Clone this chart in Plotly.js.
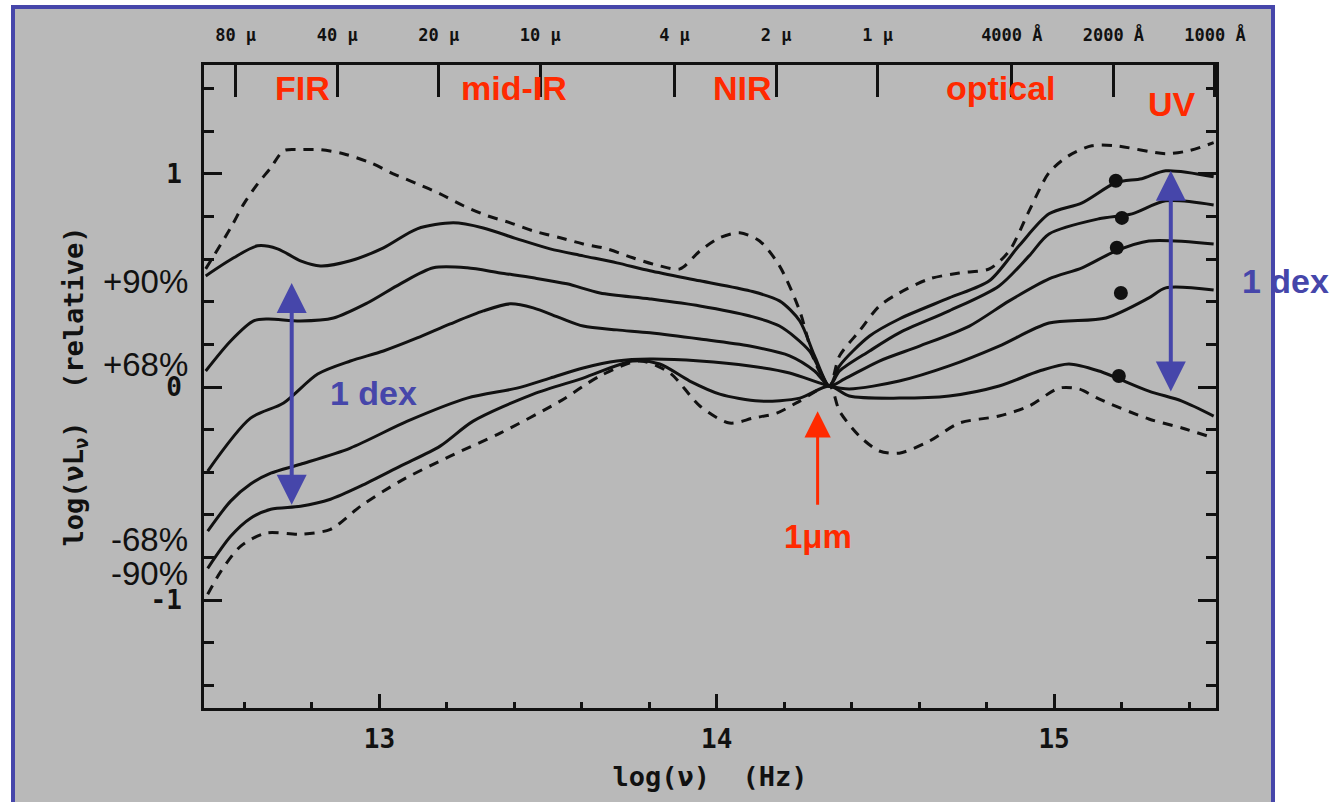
<!DOCTYPE html>
<html><head><meta charset="utf-8">
<script src="https://cdn.plot.ly/plotly-3.0.1.min.js"></script>
<style>
html,body{margin:0;padding:0;background:#fff;overflow:hidden;}
#frame{position:absolute;left:11px;top:5px;width:1256px;height:820px;background:#b9b9b9;border:4px solid #4646aa;border-bottom:none;}
#chart{position:absolute;left:0;top:0;width:1337px;height:802px;}
</style></head><body>
<div id="frame"></div>
<div id="chart"></div>
<script>
// ---- data: log(nu) [Hz] and log(nu L_nu) relative, normalised at ~1 micron ----
const duX = [12.485,12.559,12.598,12.639,12.678,12.716,12.766,12.825,12.893,12.973,13.041,13.112,13.180,13.249,13.320,13.388,13.456,13.536,13.604,13.675,13.751,13.831,13.891,13.950,14.009,14.068,14.127,14.186,14.246,14.290,14.334,14.364,14.423,14.482,14.541,14.630,14.719,14.808,14.867,14.926,14.985,15.044,15.112,15.183,15.331,15.399,15.473];
const duY = [0.554,0.746,0.859,0.953,1.028,1.108,1.113,1.113,1.094,1.052,1.000,0.953,0.906,0.850,0.803,0.770,0.732,0.700,0.671,0.648,0.606,0.568,0.554,0.638,0.700,0.723,0.685,0.568,0.357,0.122,0.005,0.146,0.263,0.380,0.441,0.507,0.535,0.554,0.638,0.826,1.005,1.085,1.131,1.131,1.094,1.108,1.146];

const s1X = [12.485,12.568,12.639,12.698,12.766,12.825,12.914,13.012,13.112,13.219,13.308,13.408,13.506,13.604,13.704,13.802,13.950,14.098,14.186,14.246,14.290,14.334,14.364,14.453,14.541,14.689,14.808,14.896,14.985,15.083,15.183,15.260,15.331,15.473];
const s1Y = [0.521,0.606,0.662,0.648,0.592,0.568,0.592,0.653,0.742,0.770,0.746,0.695,0.648,0.615,0.582,0.545,0.498,0.451,0.404,0.310,0.146,0.005,0.099,0.239,0.319,0.418,0.498,0.662,0.812,0.864,0.958,0.977,1.014,0.986];

const s2X = [12.485,12.559,12.627,12.669,12.766,12.864,12.964,13.062,13.160,13.260,13.358,13.456,13.556,13.654,13.802,13.950,14.098,14.186,14.275,14.334,14.364,14.453,14.541,14.689,14.837,14.926,14.985,15.133,15.231,15.331,15.473];
const s2Y = [0.075,0.216,0.310,0.319,0.310,0.324,0.394,0.484,0.559,0.559,0.535,0.512,0.484,0.441,0.413,0.380,0.333,0.286,0.169,0.005,0.075,0.169,0.254,0.357,0.474,0.615,0.718,0.789,0.812,0.873,0.854];

const s3X = [12.491,12.618,12.716,12.817,12.914,13.012,13.112,13.210,13.308,13.388,13.456,13.536,13.604,13.704,13.802,13.950,14.098,14.216,14.290,14.334,14.379,14.482,14.601,14.749,14.867,14.985,15.083,15.183,15.281,15.473];
const s3Y = [-0.394,-0.146,-0.075,0.061,0.122,0.169,0.230,0.296,0.357,0.390,0.371,0.324,0.286,0.268,0.254,0.225,0.192,0.146,0.075,0.005,0.038,0.122,0.192,0.286,0.404,0.507,0.559,0.638,0.685,0.671];

const s4X = [12.491,12.559,12.618,12.678,12.766,12.914,13.083,13.260,13.408,13.506,13.604,13.704,13.802,13.950,14.098,14.216,14.334,14.393,14.541,14.689,14.837,14.985,15.154,15.281,15.331,15.473];
const s4Y = [-0.676,-0.535,-0.455,-0.404,-0.362,-0.286,-0.160,-0.052,-0.005,0.042,0.089,0.122,0.131,0.122,0.099,0.066,0.005,-0.009,0.028,0.099,0.192,0.300,0.324,0.418,0.465,0.455];

const s5X = [12.491,12.559,12.618,12.678,12.766,12.855,12.944,13.062,13.180,13.278,13.456,13.604,13.751,13.831,13.920,14.009,14.127,14.246,14.334,14.393,14.541,14.689,14.837,14.956,15.044,15.133,15.281,15.379,15.473];
const s5Y = [-0.850,-0.700,-0.615,-0.573,-0.559,-0.526,-0.465,-0.371,-0.277,-0.160,-0.033,0.042,0.122,0.108,0.028,-0.033,-0.066,-0.052,0.005,-0.042,-0.052,-0.042,0.005,0.075,0.108,0.075,-0.019,-0.066,-0.136];

const dlX = [12.491,12.530,12.589,12.663,12.766,12.855,12.944,13.062,13.210,13.358,13.536,13.654,13.772,13.861,13.950,14.038,14.107,14.178,14.246,14.334,14.364,14.423,14.482,14.541,14.630,14.719,14.837,14.926,15.015,15.074,15.133,15.281,15.379,15.473];
const dlY = [-0.972,-0.864,-0.746,-0.685,-0.690,-0.667,-0.559,-0.441,-0.324,-0.216,-0.066,0.052,0.122,0.066,-0.089,-0.169,-0.146,-0.122,-0.066,0.005,-0.113,-0.230,-0.300,-0.310,-0.254,-0.169,-0.136,-0.089,-0.005,-0.009,-0.056,-0.150,-0.192,-0.239];

// small dark blobs drawn on the UV end of the solid curves
const blobX = [15.183,15.201,15.186,15.198,15.192];
const blobY = [0.967,0.793,0.653,0.441,0.052];

// top axis: wavelengths (micron) and their labels
const waveMicron = [80,40,20,10,4,2,1,0.4,0.2,0.1];
const waveLabels = ['80 μ','40 μ','20 μ','10 μ','4 μ','2 μ','1 μ','4000 Å','2000 Å','1000 Å'];
// bottom / left ticks
const xTickVals = [13,14,15];
const xTickText = ['13','14','15'];
const yTickVals = [-1,0,1];
const yTickText = ['-1','0','1'];
// band names and their centres (log nu)
const bandNames = ['FIR','mid-IR','NIR','optical','UV'];
const bandCentres = [12.772,13.399,14.077,14.843,15.349];
// percentile levels
const pctLabels = ['+90%','+68%','-68%','-90%'];
const pctLevels = [0.493,0.108,-0.714,-0.873];

const wavePos = waveMicron.map(l => Math.log10(2.998e14 / l));

const INK = '#111111', BLUE = '#4646aa', RED = '#ff2a00';
function curve(x, y, dash) {
  return {type:'scatter', mode:'lines', x:x, y:y, hoverinfo:'skip', showlegend:false,
    line:{color:INK, width:3, shape:'spline', smoothing:0.8, dash:dash}};
}
const traces = [
  curve(duX, duY, '10px,8px'),
  curve(s1X, s1Y, 'solid'),
  curve(s2X, s2Y, 'solid'),
  curve(s3X, s3Y, 'solid'),
  curve(s4X, s4Y, 'solid'),
  curve(s5X, s5Y, 'solid'),
  curve(dlX, dlY, '10px,8px'),
  {type:'scatter', mode:'markers', x:blobX, y:blobY, hoverinfo:'skip', showlegend:false,
    marker:{symbol:'circle', size:14, color:INK, line:{width:0}}},
  {type:'scatter', mode:'none', x:wavePos, y:wavePos.map(() => null), xaxis:'x2', hoverinfo:'skip', showlegend:false}
];

const mono = {family:'DejaVu Sans Mono', color:INK, weight:'bold'};
const ann = [];
bandNames.forEach((t, i) => ann.push({x:bandCentres[i], y: t === 'UV' ? 1.329 : 1.404, xref:'x', yref:'y', text:t, showarrow:false,
  font:{family:'Liberation Sans', size:34, color:RED, weight:'bold'}}));
pctLabels.forEach((t, i) => ann.push({x:0, xref:'paper', xanchor:'right', xshift:-14, y:pctLevels[i], yref:'y', text:t, showarrow:false,
  font:{family:'Liberation Sans', size:33, color:INK}}));
// 1 dex arrows
function dbl(x, y0, y1) {
  return {x:x, y:y1, ax:x, ay:y0, xref:'x', yref:'y', axref:'x', ayref:'y', text:'', showarrow:true,
    arrowhead:2, startarrowhead:2, arrowside:'end+start', arrowsize:1.5, startarrowsize:1.5,
    arrowwidth:4, arrowcolor:BLUE, standoff:0, startstandoff:0};
}
ann.push(dbl(12.740, -0.559, 0.488));
ann.push(dbl(15.346, -0.028, 1.014));
ann.push({x:12.982, y:-0.028, xref:'x', yref:'y', text:'1 dex', showarrow:false, font:{family:'Liberation Sans', size:34, color:BLUE, weight:'bold'}});
ann.push({x:1, xref:'paper', xanchor:'left', xshift:24, y:0.498, yref:'y', text:'1 dex', showarrow:false, font:{family:'Liberation Sans', size:34, color:BLUE, weight:'bold'}});
// 1 micron pointer
ann.push({x:14.299, y:-0.113, ax:14.299, ay:-0.559, xref:'x', yref:'y', axref:'x', ayref:'y', text:'', showarrow:true,
  arrowhead:2, arrowsize:1.75, arrowwidth:3, arrowcolor:RED, standoff:0});
ann.push({x:14.299, y:-0.700, xref:'x', yref:'y', text:'1μm', showarrow:false, font:{family:'Liberation Sans', size:33, color:RED, weight:'bold'}});

const axCommon = {showline:true, linewidth:3, linecolor:INK, ticks:'inside', tickwidth:3, tickcolor:INK, showgrid:false, zeroline:false};
const layout = {
  width:1337, height:802,
  margin:{l:204, r:121, t:65, b:94},
  paper_bgcolor:'rgba(0,0,0,0)', plot_bgcolor:'rgba(0,0,0,0)',
  showlegend:false,
  xaxis: Object.assign({}, axCommon, {range:[12.48,15.48], tickmode:'array', tickvals:xTickVals, ticktext:xTickText, ticklen:14,
    tickfont:Object.assign({size:26}, mono), ticklabelstandoff:6,
    minor:{tickmode:'linear', tick0:13, dtick:0.2, ticks:'inside', ticklen:6, tickwidth:3, tickcolor:INK, showgrid:false},
    title:{text:'log(ν)\u00a0\u00a0(Hz)', font:Object.assign({size:27}, mono), standoff:14}}),
  xaxis2: Object.assign({}, axCommon, {overlaying:'x', side:'top', range:[12.48,15.48], tickmode:'array', tickvals:wavePos, ticktext:waveLabels,
    ticklen:32, tickfont:Object.assign({size:17}, mono), ticklabelstandoff:14}),
  yaxis: Object.assign({}, axCommon, {range:[-1.505,1.51], tickmode:'array', tickvals:yTickVals, ticktext:yTickText, ticklen:18, mirror:'ticks',
    tickfont:Object.assign({size:26}, mono), ticklabelstandoff:14,
    minor:{tickmode:'linear', tick0:0, dtick:0.2, ticks:'inside', ticklen:10, tickwidth:3, tickcolor:INK, showgrid:false},
    title:{text:'log(νL<sub>ν</sub>)\u00a0\u00a0(relative)', font:Object.assign({size:27}, mono), standoff:60}}),
  annotations: ann
};
Plotly.newPlot('chart', traces, layout, {displayModeBar:false, staticPlot:true});
</script></body></html>
